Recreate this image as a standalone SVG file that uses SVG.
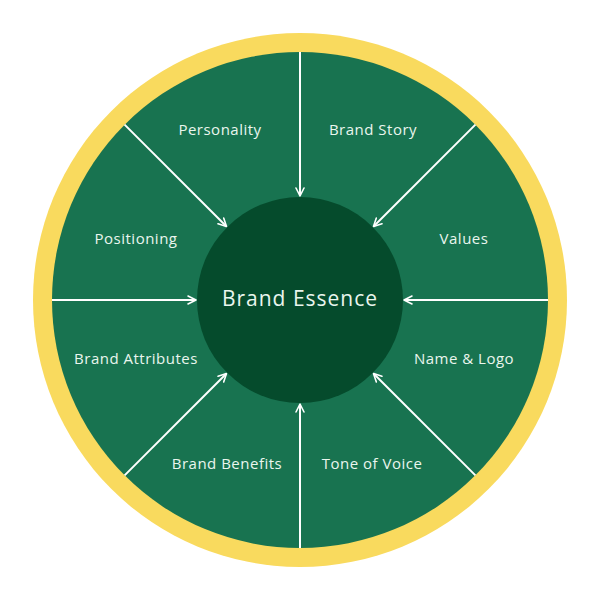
<svg xmlns="http://www.w3.org/2000/svg" width="600" height="600" viewBox="0 0 600 600">
  <style>
    .lbl { font-family: "Open Sans", "Noto Sans", sans-serif; font-size: 15px; letter-spacing: 0.5px; fill: #EAF6EE; text-anchor: middle; dominant-baseline: central; }
    .core { font-family: "Open Sans", "Noto Sans", sans-serif; font-size: 21px; letter-spacing: 1px; fill: #EAF6EE; text-anchor: middle; dominant-baseline: central; }
    .conn { stroke: #FFFFFF; stroke-width: 2; fill: none; marker-end: url(#arr); }
  </style>
  <defs>
    <marker id="arr" viewBox="0 0 10 10" refX="9" refY="5" markerWidth="5" markerHeight="5" orient="auto" markerUnits="strokeWidth">
      <path d="M1,1 L9,5 L1,9" fill="none" stroke="#FFFFFF" stroke-width="1.6" stroke-linecap="round" stroke-linejoin="round"/>
    </marker>
  </defs>
  <rect width="600" height="600" fill="#FFFFFF"/>
  <g id="ring">
    <circle cx="300" cy="300" r="267" fill="#F9DA5E"/>
    <circle cx="300" cy="300" r="248" fill="#187350"/>
  </g>
  <g id="connectors">
    <line class="conn" x1="300" y1="52" x2="300" y2="196"/>
    <line class="conn" x1="475.4" y1="124.6" x2="373.5" y2="226.5"/>
    <line class="conn" x1="548" y1="300" x2="404" y2="300"/>
    <line class="conn" x1="475.4" y1="475.4" x2="373.5" y2="373.5"/>
    <line class="conn" x1="300" y1="548" x2="300" y2="404"/>
    <line class="conn" x1="124.6" y1="475.4" x2="226.5" y2="373.5"/>
    <line class="conn" x1="52" y1="300" x2="196" y2="300"/>
    <line class="conn" x1="124.6" y1="124.6" x2="226.5" y2="226.5"/>
  </g>
  <g id="brand-essence">
    <circle cx="300" cy="300" r="103" fill="#054B2C"/>
    <text class="core" x="300" y="298">Brand Essence</text>
  </g>
  <g id="personality"><text class="lbl" x="220" y="129">Personality</text></g>
  <g id="brand-story"><text class="lbl" x="373" y="129">Brand Story</text></g>
  <g id="positioning"><text class="lbl" x="136" y="238">Positioning</text></g>
  <g id="values"><text class="lbl" x="464" y="238">Values</text></g>
  <g id="brand-attributes"><text class="lbl" x="136" y="358">Brand Attributes</text></g>
  <g id="name-logo"><text class="lbl" x="464" y="358">Name &amp; Logo</text></g>
  <g id="brand-benefits"><text class="lbl" x="227" y="463">Brand Benefits</text></g>
  <g id="tone-of-voice"><text class="lbl" x="372" y="463">Tone of Voice</text></g>
</svg>
